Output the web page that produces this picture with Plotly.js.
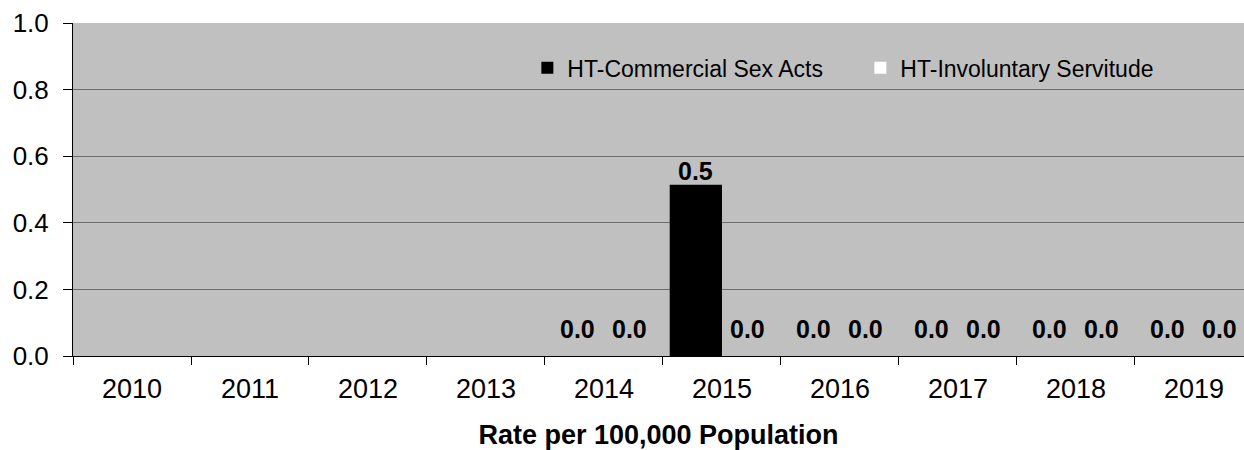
<!DOCTYPE html>
<html>
<head>
<meta charset="utf-8">
<script src="https://cdn.plot.ly/plotly-3.0.1.min.js"></script>
<style>
html,body{margin:0;padding:0;background:#fff;}
#chart{width:1244px;height:450px;}
</style>
</head>
<body>
<div id="chart"></div>
<script>
var years = ['2010','2011','2012','2013','2014','2015','2016','2017','2018','2019'];
var commercialSexActs = [null, null, null, null, 0.0, 0.514, 0.0, 0.0, 0.0, 0.0];
var involuntaryServitude = [null, null, null, null, 0.0, 0.0, 0.0, 0.0, 0.0, 0.0];
var seriesNames = ['HT-Commercial Sex Acts', 'HT-Involuntary Servitude'];
var seriesColors = ['#000000', '#ffffff'];
var yTickValues = [0, 0.2, 0.4, 0.6, 0.8, 1.0];
var yTickLabels = ['0.0', '0.2', '0.4', '0.6', '0.8', '1.0'];

var FONT = 'Arial, "Liberation Sans", sans-serif';
var allSeries = [commercialSexActs, involuntaryServitude];

var traces = allSeries.map(function (vals, i) {
  return {
    type: 'bar',
    name: seriesNames[i],
    x: years,
    y: vals,
    marker: { color: seriesColors[i], line: { width: 0 } },
    hoverinfo: 'x+y+name'
  };
});

// data labels from the series arrays (x given as category index)
var annotations = [];
var shiftPx = 26;
allSeries.forEach(function (vals, i) {
  vals.forEach(function (v, j) {
    if (v === null) return;
    annotations.push({
      x: j, y: v, xref: 'x', yref: 'y',
      text: '<b>' + v.toFixed(1) + '</b>',
      showarrow: false,
      xanchor: 'center', yanchor: 'bottom',
      xshift: i === 0 ? -shiftPx : shiftPx,
      yshift: v > 0 ? -2 : 11.5,
      font: { family: FONT, size: 25, color: '#000000' }
    });
  });
});

var layout = {
  width: 1244, height: 450,
  margin: { l: 73, r: 0, t: 23, b: 94, pad: 0 },
  paper_bgcolor: '#ffffff',
  plot_bgcolor: '#c0c0c0',
  barmode: 'group',
  bargap: 0.114,
  bargroupgap: 0,
  showlegend: true,
  legend: {
    orientation: 'h',
    x: 0.388, xanchor: 'left',
    y: 0.93, yanchor: 'top',
    bgcolor: 'rgba(0,0,0,0)',
    font: { family: FONT, size: 23, color: '#000' },
    entrywidth: 288, entrywidthmode: 'pixels',
    traceorder: 'normal'
  },
  xaxis: {
    type: 'category',
    range: [-0.5, 9.424],
    showline: true, linecolor: '#000', linewidth: 1,
    ticks: 'outside', tickson: 'boundaries', ticklen: 8, tickcolor: '#000', tickwidth: 1,
    ticklabelstandoff: 9,
    tickfont: { family: FONT, size: 27, color: '#000' },
    showgrid: false,
    zeroline: false,
    title: {
      text: '<b>Rate per 100,000 Population</b>',
      font: { family: FONT, size: 27, color: '#000' },
      standoff: 35
    },
    fixedrange: true
  },
  yaxis: {
    range: [0, 1],
    tickvals: yTickValues,
    ticktext: yTickLabels,
    showline: true, linecolor: '#000', linewidth: 1,
    ticks: 'outside', ticklen: 9, tickcolor: '#000', tickwidth: 1,
    ticklabelstandoff: 9,
    tickfont: { family: FONT, size: 26, color: '#000' },
    showgrid: true, gridcolor: '#6e6e6e', gridwidth: 1,
    zeroline: false,
    fixedrange: true
  },
  annotations: annotations
};

Plotly.newPlot('chart', traces, layout, { displayModeBar: false, staticPlot: true });
</script>
</body>
</html>
